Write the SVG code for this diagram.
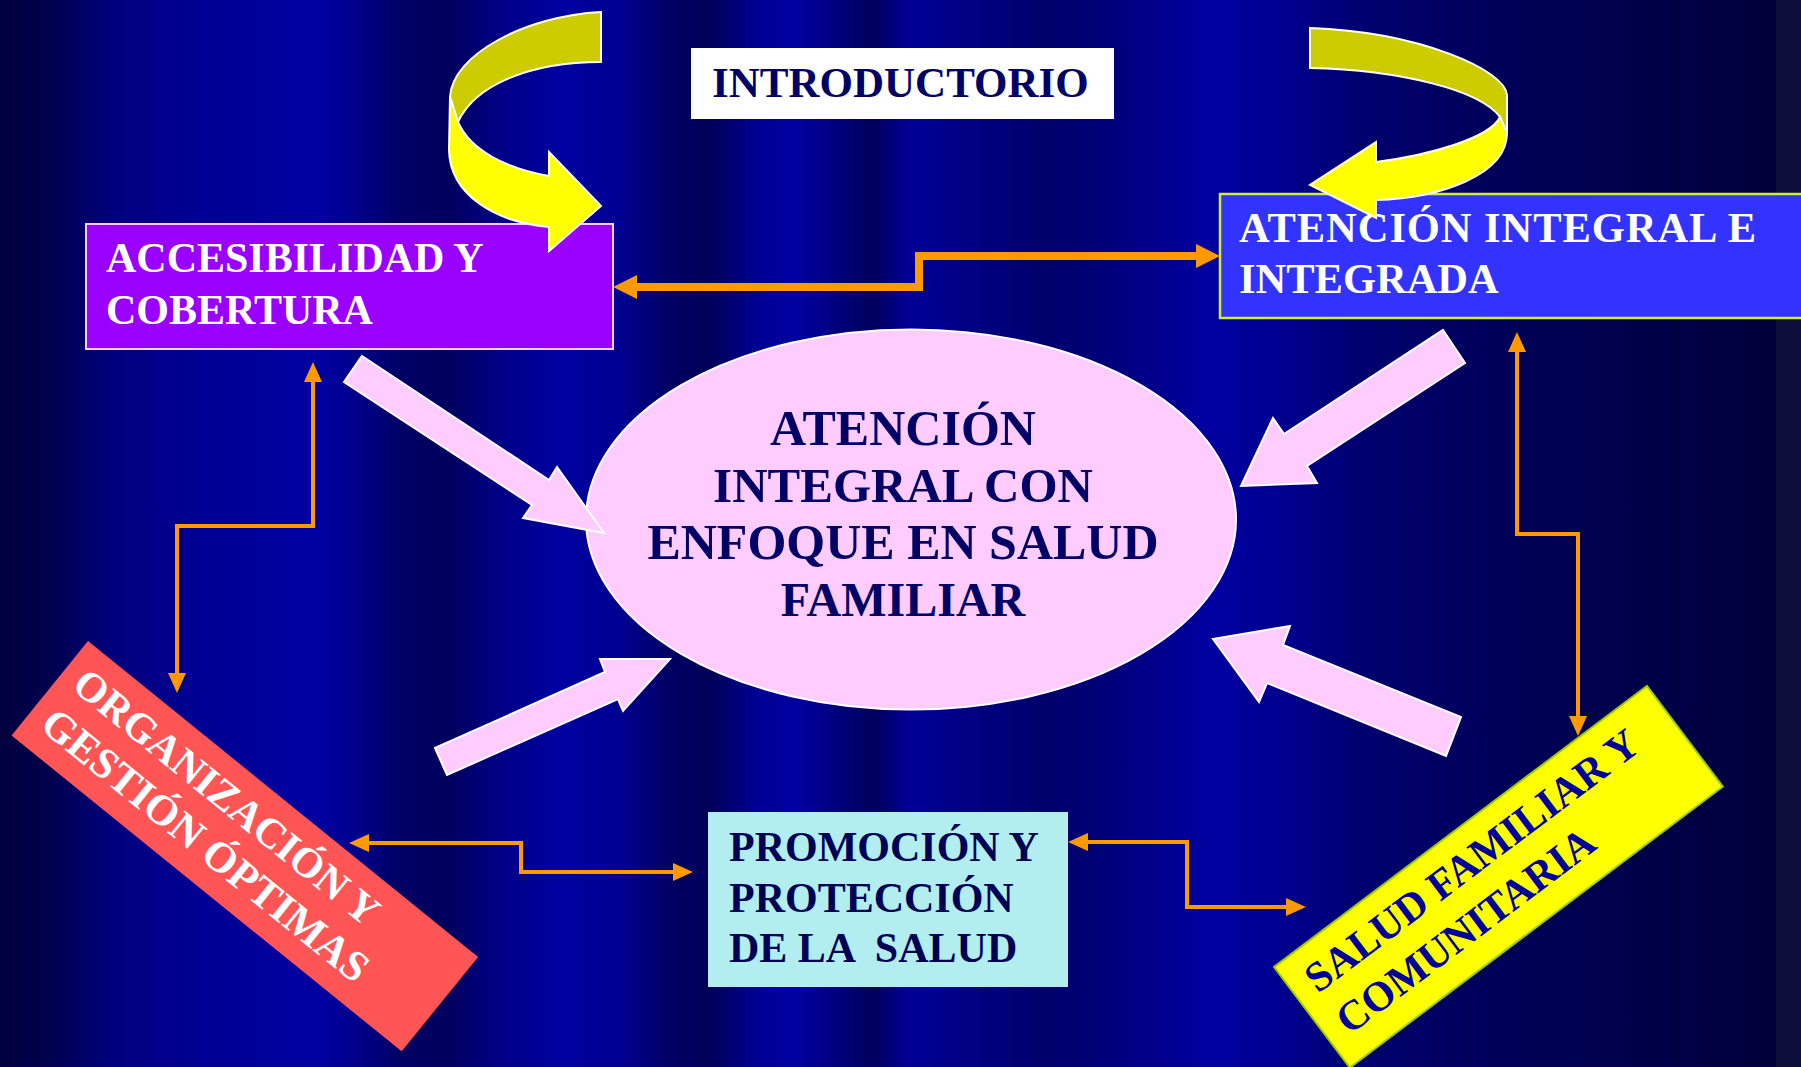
<svg xmlns="http://www.w3.org/2000/svg" width="1801" height="1067" viewBox="0 0 1801 1067">
<defs>
<linearGradient id="bg" gradientUnits="userSpaceOnUse" x1="0" y1="0" x2="1801" y2="0">
<stop offset="0" stop-color="#00003f"/>
<stop offset="0.028" stop-color="#00004e"/>
<stop offset="0.061" stop-color="#00007c"/>
<stop offset="0.111" stop-color="#000094"/>
<stop offset="0.178" stop-color="#0000a0"/>
<stop offset="0.200" stop-color="#00008a"/>
<stop offset="0.222" stop-color="#000064"/>
<stop offset="0.250" stop-color="#00005e"/>
<stop offset="0.278" stop-color="#000088"/>
<stop offset="0.311" stop-color="#0000a0"/>
<stop offset="0.344" stop-color="#000092"/>
<stop offset="0.372" stop-color="#000062"/>
<stop offset="0.395" stop-color="#00005a"/>
<stop offset="0.422" stop-color="#000096"/>
<stop offset="0.444" stop-color="#0000a0"/>
<stop offset="0.472" stop-color="#000070"/>
<stop offset="0.486" stop-color="#00005e"/>
<stop offset="0.505" stop-color="#000098"/>
<stop offset="0.533" stop-color="#000086"/>
<stop offset="0.583" stop-color="#00006a"/>
<stop offset="0.622" stop-color="#00007e"/>
<stop offset="0.672" stop-color="#0000a0"/>
<stop offset="0.700" stop-color="#000096"/>
<stop offset="0.755" stop-color="#000070"/>
<stop offset="0.833" stop-color="#000058"/>
<stop offset="0.916" stop-color="#000048"/>
<stop offset="0.986" stop-color="#00003a"/>
<stop offset="1" stop-color="#00003a"/>
</linearGradient>
<marker id="ah" markerUnits="userSpaceOnUse" orient="auto-start-reverse" refX="4" refY="0" markerWidth="30" markerHeight="30" overflow="visible">
<path d="M0,-9 L20,0 L0,9 Z" fill="#ff9900"/>
</marker>
<marker id="ahBig" markerUnits="userSpaceOnUse" orient="auto-start-reverse" refX="4" refY="0" markerWidth="30" markerHeight="30" overflow="visible">
<path d="M0,-12 L24,0 L0,12 Z" fill="#ff9900"/>
</marker>
<style>
.t { font-family: "Liberation Serif", "Times New Roman", serif; font-weight: bold; font-size: 42px; }
.w { fill: #ffffff; }
.conn { fill: none; stroke: #ff9900; stroke-width: 4; marker-start: url(#ah); marker-end: url(#ah); }
.connBig { fill: none; stroke: #ff9900; stroke-width: 8; marker-start: url(#ahBig); marker-end: url(#ahBig); }
.pink { fill: #ffccff; stroke: #ffffff; stroke-width: 2; stroke-linejoin: miter; }
.olive { fill: #cccc00; stroke: #ffffff; stroke-width: 2; }
.yel { fill: #ffff00; stroke: #ffffff; stroke-width: 2; }
</style>
</defs>

<rect x="0" y="0" width="1801" height="1067" fill="url(#bg)"/>
<rect x="1776" y="0" width="25" height="1067" fill="#0e0e3a"/>

<g id="introductorio">
<rect x="691" y="48" width="423" height="71" fill="#ffffff"/>
<text class="t" x="712" y="97" fill="#000066" style="font-size:43px">INTRODUCTORIO</text>
</g>

<g id="accesibilidad">
<rect x="86" y="224" width="527" height="125" fill="#9900ff" stroke="#ffccff" stroke-width="2"/>
<text class="t w" x="106" y="272">ACCESIBILIDAD Y</text>
<text class="t w" x="106" y="324">COBERTURA</text>
</g>

<g id="atencion-integral">
<rect x="1220" y="194" width="590" height="124" fill="#3333ff" stroke="#ccee33" stroke-width="2.5"/>
<text class="t w" x="1239" y="242" textLength="517" style="font-size:42.5px">ATENCIÓN INTEGRAL E</text>
<text class="t w" x="1239" y="293" style="font-size:42.5px">INTEGRADA</text>
</g>

<g id="centro">
<ellipse cx="911" cy="519.5" rx="325" ry="190" fill="#ffccff" stroke="#ffffff" stroke-width="2"/>
<text class="t" x="903" y="445" text-anchor="middle" fill="#000066" style="font-size:50px">ATENCIÓN</text>
<text class="t" x="903" y="502" text-anchor="middle" fill="#000066" style="font-size:49px">INTEGRAL CON</text>
<text class="t" x="903" y="559" text-anchor="middle" fill="#000066" style="font-size:50px">ENFOQUE EN SALUD</text>
<text class="t" x="903" y="616" text-anchor="middle" fill="#000066" style="font-size:48px">FAMILIAR</text>
</g>

<g id="organizacion" transform="translate(88,641) rotate(39)">
<rect x="0" y="0" width="502" height="121.5" fill="#ff5555"/>
<text class="t w" x="16" y="48">ORGANIZACIÓN Y</text>
<text class="t w" x="16" y="99" style="font-size:43px">GESTIÓN ÓPTIMAS</text>
</g>

<g id="promocion">
<rect x="708" y="812" width="360" height="175" fill="#b2eef0"/>
<text class="t" x="729" y="861" fill="#000055">PROMOCIÓN Y</text>
<text class="t" x="729" y="912" fill="#000055">PROTECCIÓN</text>
<text class="t" x="729" y="962" fill="#000055" xml:space="preserve">DE LA  SALUD</text>
</g>

<g id="salud-familiar" transform="translate(1274,967) rotate(-37)">
<rect x="0" y="0" width="467" height="126" fill="#ffff00" stroke="#99cc00" stroke-width="2"/>
<text class="t" x="19" y="48" fill="#000099">SALUD FAMILIAR Y</text>
<text class="t" x="19" y="100" fill="#000099">COMUNITARIA</text>
</g>

<g id="connectors">
<path class="connBig" d="M633,287 L919,287 L919,256 L1200,256"/>
<path class="conn" d="M313,378 L313,526 L177,526 L177,677"/>
<path class="conn" d="M1517,348 L1517,534 L1578,534 L1578,720"/>
<path class="conn" d="M365,843 L521,843 L521,872 L677,872"/>
<path class="conn" d="M1084,842 L1187,842 L1187,907 L1290,907"/>

<polygon class="pink" points="362,356 549,480 557,467 604,533 523,518 532,505 344,382"/>
<polygon class="pink" points="1443,330 1465,363 1307,466 1317,483 1241,486 1273,418 1284,434"/>
<polygon class="pink" points="435,748 605,672 600,659 670,659 623,711 618,699 447,775"/>
<polygon class="pink" points="1213,639 1290,626 1283,645 1461,717 1446,756 1267,683 1259,702"/>

<path class="olive" d="M601,12 C525,16 452,55 450,97 L458,122 C475,85 530,62 601,62 Z"/>
<path class="yel" d="M450,97 L449,150 C450,195 495,222 549,227 L549,251 L601,206 L549,152 L549,176 C505,168 470,150 458,122 Z"/>
<path class="olive" d="M1310,28 C1420,32 1505,70 1507,95 L1507,133 L1500,117 C1480,90 1400,70 1310,68 Z"/>
<path class="yel" d="M1507,133 C1507,175 1440,198 1376,200 L1376,218 L1310,185 L1376,142 L1376,162 C1430,155 1490,138 1500,117 Z"/>
</g>
</svg>
